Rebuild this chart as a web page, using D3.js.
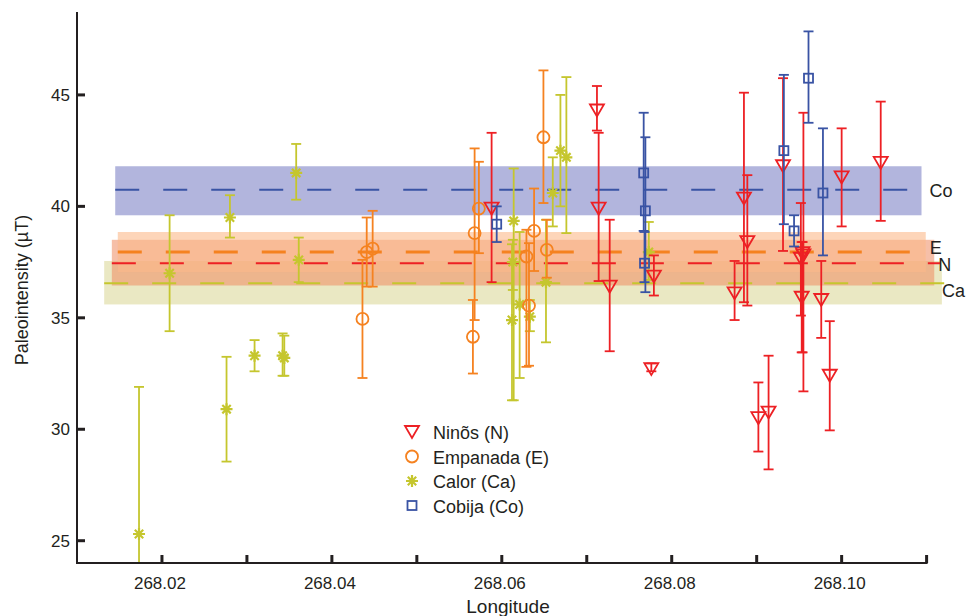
<!DOCTYPE html>
<html><head><meta charset="utf-8">
<script src="https://cdn.jsdelivr.net/npm/d3@7"></script>
<style>body{margin:0;background:#fff}text{font-family:"Liberation Sans",Arial,sans-serif;fill:#231f20}</style>
</head><body><svg id="c" width="970" height="616"></svg>
<script>
// series: [longitude, intensity, errLow, errHigh]
const calor = [
  [268.0173,25.3,18.7,31.9],[268.0209,37.0,34.4,39.6],[268.0276,30.9,28.55,33.25],[268.0280,39.5,38.6,40.5],
  [268.0309,33.3,32.6,34.0],[268.0342,33.3,32.4,34.3],[268.0344,33.2,32.4,34.2],[268.0358,41.5,40.3,42.8],
  [268.0361,37.6,36.6,38.6],[268.0614,39.35,31.3,41.7],[268.0613,37.5,36.25,38.5],[268.0612,34.9,31.3,38.3],
  [268.0621,35.6,32.3,38.85],[268.0633,35.05,34.4,35.8],[268.0652,36.6,33.9,39.4],[268.0660,40.6,39.1,42.2],
  [268.0669,42.5,40.0,45.0],[268.0676,42.2,38.8,45.8],[268.0773,37.95,36.7,39.3]
]
const empanada = [
  [268.0436,34.95,32.3,37.6],[268.0441,37.95,36.4,39.5],[268.0448,38.1,36.4,39.8],[268.0566,34.15,32.5,35.8],
  [268.0568,38.8,34.9,42.6],[268.0573,39.9,37.9,42.0],[268.0629,37.75,32.8,38.95],[268.0632,35.55,32.85,38.35],
  [268.0638,38.9,37.1,40.8],[268.0649,43.1,40.15,46.1],[268.0653,38.05,36.8,39.4]
]
const ninos = [
  [268.0588,39.9,36.6,43.3],[268.0712,44.3,43.4,45.4],[268.0714,39.9,36.65,43.3],[268.0727,36.4,33.5,39.4],
  [268.0776,32.7,32.6,32.95],[268.0779,36.85,36.0,37.8],[268.0874,36.1,34.9,37.55],[268.0885,40.35,35.7,45.1],
  [268.0889,38.4,35.55,41.4],[268.0902,30.5,29.0,32.1],[268.0914,30.75,28.2,33.3],[268.0931,41.8,38.0,45.75],
  [268.0952,37.65,35.1,40.15],[268.0954,37.9,33.45,38.4],[268.0953,35.9,33.45,38.4],[268.0955,37.8,31.7,44.2],
  [268.0976,35.8,34.1,37.55],[268.0986,32.4,29.95,34.85],[268.1000,41.3,39.1,43.5],[268.1046,41.95,39.35,44.7]
]
const cobija = [
  [268.0594,39.2,38.4,40.0],[268.0767,41.5,38.9,44.2],[268.0769,39.8,36.15,43.1],[268.0768,37.45,36.6,38.85],
  [268.0932,42.5,39.2,45.9],[268.0944,38.9,38.2,39.6],[268.0961,45.75,43.75,47.85],[268.0978,40.6,37.8,43.5]
]
// bands: [label, mean, low, high, xStart, xEnd]
const bands = [
  ["Ca",36.55,35.6,37.55,268.0132,268.1118],
  ["N",37.45,36.45,38.5,268.0141,268.1109],
  ["E",37.95,37.05,38.85,268.0148,268.1099],
  ["Co",40.75,39.6,41.8,268.0145,268.1094]
]
const xTicks = [268.02,268.04,268.06,268.08,268.10]
const yTicks = [25,30,35,40,45]
const legendNames = ["Ninõs (N)","Empanada (E)","Calor (Ca)","Cobija (Co)"]

const col = {N:"#ed2024",E:"#f58220",Ca:"#c5c62e",Co:"#3953a4"}
const bandFill = {Ca:["#e6e4b8",0.85],N:["#ef8a60",0.55],E:["#fcb98a",0.6],Co:["#b2b5dd",1]}
const labelDy = {Co:7,E:2,N:8,Ca:14}

const svg = d3.select('#c')
const x = d3.scaleLinear().domain([268.01,268.1104]).range([77,930])
const y = d3.scaleLinear().domain([24,48.72]).range([563,12])

// bands and mean lines
bands.forEach(b => {
  const [k,m,lo,hi,x0,x1] = b
  svg.append('rect').attr('x',x(x0)).attr('width',x(x1)-x(x0))
    .attr('y',y(hi)).attr('height',y(lo)-y(hi))
    .attr('fill',bandFill[k][0]).attr('opacity',bandFill[k][1])
})
bands.forEach(b => {
  const [k,m,lo,hi,x0,x1] = b
  svg.append('line').attr('x1',x(x0)).attr('x2',x(x1)+6).attr('y1',y(m)).attr('y2',y(m))
    .attr('stroke',col[k]).attr('stroke-width',k=='E'?3:2).attr('stroke-dasharray','24,24')
  svg.append('text').attr('x',x(x1)+(k=='Co'?8:k=='Ca'?0:4)).attr('y',y(m)+labelDy[k])
    .attr('font-size',18).text(k)
})

const sym = {
  N: g => g.append('path').attr('d','M-7,-6L7,-6L0,6Z'),
  E: g => g.append('circle').attr('r',6),
  Ca: g => g.append('path').attr('d','M-6,0L6,0M0,-6L0,6M-4.2,-4.2L4.2,4.2M-4.2,4.2L4.2,-4.2').attr('stroke-width',2.2),
  Co: g => g.append('rect').attr('x',-4.5).attr('y',-4.5).attr('width',9).attr('height',9)
}

function drawSeries(data,k){
  const g = svg.append('g').attr('stroke',col[k]).attr('fill','none').attr('stroke-width',1.8)
  data.forEach(d => {
    const cx = x(d[0])
    const top = y(d[3])
    const bot = Math.min(y(d[2]),563)
    g.append('line').attr('x1',cx).attr('x2',cx).attr('y1',top).attr('y2',bot)
    g.append('line').attr('x1',cx-5).attr('x2',cx+5).attr('y1',top).attr('y2',top)
    if (y(d[2])<=563) g.append('line').attr('x1',cx-5).attr('x2',cx+5).attr('y1',bot).attr('y2',bot)
    sym[k](g.append('g').attr('transform',`translate(${cx},${y(d[1])})`))
  })
}
drawSeries(calor,'Ca')
drawSeries(empanada,'E')
drawSeries(ninos,'N')
drawSeries(cobija,'Co')

// axes
const ax = svg.append('g').attr('stroke','#231f20')
ax.append('line').attr('x1',77).attr('x2',77).attr('y1',12).attr('y2',564).attr('stroke-width',2)
ax.append('line').attr('x1',76).attr('x2',x(268.11)+1).attr('y1',563).attr('y2',563).attr('stroke-width',2)
yTicks.forEach(t => {
  ax.append('line').attr('x1',77).attr('x2',85).attr('y1',y(t)).attr('y2',y(t)).attr('stroke-width',3)
  svg.append('text').attr('x',70).attr('y',y(t)+6).attr('text-anchor','end').attr('font-size',17).text(t)
})
d3.range(268.02,268.111,0.01).forEach(t => {
  ax.append('line').attr('x1',x(t)).attr('x2',x(t)).attr('y1',563).attr('y2',555).attr('stroke-width',3)
})
xTicks.forEach(t => {
  svg.append('text').attr('x',x(t)-2).attr('y',589).attr('text-anchor','middle').attr('font-size',17).text(t.toFixed(2))
})
svg.append('text').attr('x',508).attr('y',613).attr('text-anchor','middle').attr('font-size',19).text('Longitude')
svg.append('text').attr('transform','translate(28,290) rotate(-90)').attr('text-anchor','middle')
  .attr('font-size',18).text('Paleointensity (µT)')

// legend
const keys = ['N','E','Ca','Co']
keys.forEach((k,i) => {
  const ly = 432 + i*24.5
  const g = svg.append('g').attr('stroke',col[k]).attr('fill','none').attr('stroke-width',1.8)
    .attr('transform',`translate(412,${ly})`)
  sym[k](g)
  svg.append('text').attr('x',433).attr('y',ly+7).attr('font-size',18).text(legendNames[i])
})
</script></body></html>
